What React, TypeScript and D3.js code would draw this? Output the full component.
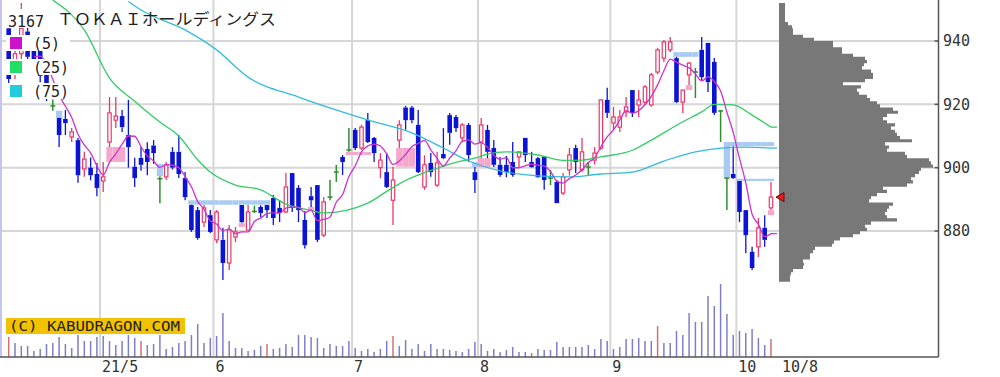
import React from 'react';
import * as d3 from 'd3';

// ---- categories: trading days (2021) ----
const monthDays: [number, number[]][] = [
  [4, [9, 12, 13, 14, 15, 16, 19, 20, 21, 22, 23, 26, 27, 28, 30]],
  [5, [6, 7, 10, 11, 12, 13, 14, 17, 18, 19, 20, 21, 24, 25, 26, 27, 28, 31]],
  [6, [1, 2, 3, 4, 7, 8, 9, 10, 11, 14, 15, 16, 17, 18, 21, 22, 23, 24, 25, 28, 29, 30]],
  [7, [1, 2, 5, 6, 7, 8, 9, 12, 13, 14, 15, 16, 19, 20, 21, 26, 27, 28, 29, 30]],
  [8, [2, 3, 4, 5, 6, 10, 11, 12, 13, 16, 17, 18, 19, 20, 23, 24, 25, 26, 27, 30, 31]],
  [9, [1, 2, 3, 6, 7, 8, 9, 10, 13, 14, 15, 16, 17, 21, 22, 24, 27, 28, 29, 30]],
  [10, [1, 4, 5, 6, 7, 8]],
];
const dates: string[] = monthDays.flatMap(([m, ds]) => ds.map((d) => `2021-${m}-${d}`));

const monthLabels = ['21/5', '6', '7', '8', '9', '10'];
const monthStarts = ['2021-5-6', '2021-6-1', '2021-7-1', '2021-8-2', '2021-9-1', '2021-10-1'];
const lastLabel = '10/8';
const priceTicks = [880, 900, 920, 940];

// ---- OHLC ----
const opens = [944, 930, 936, 943, 937, 937, 930, 919.5, 915.7, 915.4, 909.7, 908.7, 899.6, 900, 898, 895.8, 908.1, 915, 916.3, 910.3,
  900.3, 903.1, 905.9, 907, 896.5, 897.1, 905, 905, 896.7, 888.2, 886.6, 882.8, 885, 877.2, 877.2, 869.9, 878.1, 888.2, 880.3, 886.2,
  887.6, 888.2, 890.4, 887.3, 886, 898.3, 893.6, 883.5, 891, 894.5, 878.7, 890.7, 898.6, 903.4, 905.6, 911.9, 906.2, 915, 909.4, 900,
  898.6, 889.7, 908.7, 919, 919, 913.5, 893.9, 901.5, 894.5, 904.3, 916.6, 916, 909.4, 913.5, 898.6, 908.1, 911.9, 906.2, 900.9, 900.9,
  901.8, 903.4, 909.4, 901.8, 903, 903.4, 896.7, 895.5, 892, 899.3, 906.2, 899.3, 900.2, 902.4, 906.2, 921.4, 914.1, 912.8, 917.6, 924.5,
  919.8, 920.7, 919.8, 930.2, 934.6, 937.2, 934.6, 920.7, 929.3, 930.2, 937.2, 939.4, 933.4, 917.9, 896.7, 898, 895.8, 886.6, 873.4, 875,
  881, 887.3];
const highs = [946, 938, 952, 945, 938, 938, 931, 921.5, 915.7, 918.2, 912.5, 909.4, 905, 903.2, 901.5, 901.8, 922.3, 922.3, 918.2, 921.4,
  903.1, 906.5, 908, 908.7, 897.3, 901.8, 906.5, 910.3, 898.6, 888.3, 887.6, 888.2, 886.6, 886.6, 881, 881.9, 881.3, 888.2, 888.2, 888,
  888.1, 888.2, 891.4, 889.7, 898.3, 898.3, 894.5, 886.3, 893.9, 894.5, 890.7, 896.1, 900.9, 904, 912.5, 912.5, 913.5, 917.3, 909.7, 904.6,
  904.6, 900.3, 915, 919.5, 919.5, 918.2, 903.9, 904.6, 905, 912.5, 917.3, 916.6, 914.1, 914.1, 900.2, 915.7, 913.5, 908.7, 903.4, 903.7,
  908.1, 905, 909.4, 905, 903.4, 903.7, 899.3, 896.1, 898.3, 906.2, 907.2, 909.4, 901.8, 906.5, 921.4, 925.2, 919.2, 918.2, 922.3, 924.5,
  924.5, 926.1, 929.9, 937.8, 940.3, 941.3, 935, 924.5, 933.4, 931.5, 941.3, 939.4, 934.6, 918.2, 896.7, 906.8, 895.8, 886.6, 875, 884.1,
  885, 895.5];
const lows = [926, 928, 934, 933, 930, 927, 921, 918, 906.5, 910.3, 908.1, 895.2, 897.1, 896, 891, 892.3, 906.5, 912.5, 911.3, 900,
  893.9, 899, 897.6, 901.2, 888.8, 896.1, 899.4, 896.7, 889.7, 879.7, 877.2, 881.3, 879.4, 876.2, 864.5, 867.7, 876.5, 882.5, 880.3, 885.7,
  884.4, 884.1, 881.9, 882.8, 885.7, 886, 882.8, 874.5, 887.6, 876.5, 878.1, 889.7, 895.5, 897.7, 905, 905.6, 905.6, 907.8, 901.8, 896.7,
  893.6, 881.9, 906.2, 912, 914, 898.3, 893, 897.1, 893.9, 902.7, 907.2, 911.3, 908.1, 901.8, 892, 903, 903, 900.2, 897.1, 897,
  897.1, 900, 901.8, 900, 896.7, 893, 894.5, 888.8, 891.4, 897.5, 898.3, 898.6, 897.7, 901, 905.6, 915.7, 911.9, 911.3, 916, 916,
  916, 919.8, 919.2, 929.5, 933.4, 936.5, 920.4, 917.3, 926.1, 922, 927.7, 923.9, 916.6, 908.1, 886.6, 896.5, 882.8, 873, 867.7, 871.8,
  875, 886.6];
const closes = [928, 936, 944, 935, 932, 929, 924, 919.5, 910.3, 914.1, 911.3, 897.6, 902.7, 897.6, 893.6, 897.1, 917.3, 916.3, 912.8, 906.5,
  896.7, 900.9, 901.8, 904.6, 896.5, 900.9, 900, 898, 890.7, 880.3, 877.8, 887.3, 879.7, 886, 869.9, 880.3, 879.7, 882.8, 886, 886.2,
  885.7, 886.6, 884.1, 885.7, 893.9, 887.3, 886.6, 875.5, 889.7, 877.2, 889.2, 890.7, 898.6, 901.8, 905.6, 906.2, 912.8, 908.1, 904.6, 902.4,
  893.9, 896.1, 913.5, 915, 915, 898.6, 900.9, 898.6, 901.5, 903, 911, 912.5, 913.5, 904, 896.1, 913.5, 905, 900.9, 897.7, 898.6,
  897.7, 905, 904, 900.2, 897, 896.1, 896.7, 888.8, 897.1, 904, 901.8, 905, 900.2, 904.6, 921.4, 917.3, 916, 916, 919.2, 917.3,
  921.4, 925.5, 929.3, 937.2, 939.7, 939.7, 920.7, 924.5, 933, 930.2, 928.6, 927, 917.3, 917.9, 896.7, 896.7, 886, 878.7, 868.3, 881,
  877.2, 890.7];

// ---- volume (thousand shares) ----
const volumes = [20, 14, 11, 11, 6, 8, 13, 14, 20, 13, 9, 22, 16, 16, 20, 21, 16, 12, 16, 22,
  19, 16, 12, 13, 22, 8, 10, 14, 16, 22, 33, 14, 19, 21, 44, 16, 9, 9, 6, 7,
  11, 13, 8, 9, 13, 10, 22, 22, 20, 19, 9, 13, 11, 11, 16, 9, 6, 8, 5, 8,
  16, 21, 11, 17, 8, 13, 6, 13, 8, 8, 7, 6, 5, 8, 15, 13, 6, 8, 5, 7,
  10, 5, 5, 4, 8, 7, 7, 15, 10, 10, 10, 10, 12, 8, 18, 16, 8, 10, 18, 18,
  19, 16, 16, 31, 14, 14, 26, 22, 44, 35, 35, 61, 51, 73, 43, 22, 26, 24, 28, 19,
  12, 18];
const markedVolumeDays = [0, 21, 41, 61, 83, 103, 121];

// ---- moving averages (index, value) ----
const ma25Idx = [7, 12, 16, 20, 24, 27, 30, 32, 36, 40, 44, 48, 50, 57, 60, 63, 66, 71, 74, 76, 79, 84, 88, 91, 94, 99, 102, 107, 110, 112, 115, 118, 121];
const ma25Val = [952.9, 943.5, 928.3, 921, 914.4, 910, 902.5, 898.6, 894.5, 893, 888.5, 886.5, 885.7, 888.8, 892.5, 896, 898.4, 901.7, 903, 904.3, 905, 904, 902.3, 902.4, 903.4, 905.5, 908.7, 914.5, 917.6, 920, 919.8, 916.6, 912.8];
const ma75Idx = [19, 21, 28, 33, 38, 46, 57, 64, 69, 73, 78, 84, 89, 94, 99, 104, 109, 113, 117, 121];
const ma75Val = [952.5, 949.8, 943.5, 937.2, 928.6, 922.3, 915.1, 911, 906.2, 902.1, 899, 897.4, 897.1, 898, 898.6, 902.1, 905, 906.2, 906.5, 906.2];

// ---- price-by-volume profile (1-yen bins from 864) ----
const profileStart = 864;
const profileVol = [11, 11, 12, 14, 24, 25, 24, 31, 31, 34, 36, 53, 55, 61, 74, 81, 88, 86, 92, 118,
  108, 106, 108, 110, 114, 90, 92, 98, 108, 104, 128, 134, 132, 136, 140, 142, 154, 152, 150, 128,
  126, 108, 110, 106, 133, 121, 118, 116, 112, 116, 108, 104, 108, 119, 114, 101, 98, 91, 88, 80,
  78, 82, 64, 86, 94, 94, 92, 83, 85, 88, 86, 74, 63, 63, 54, 54, 35, 24, 14, 14,
  13, 9, 6, 6, 6, 6, 6, 6];

const COL = {
  up: '#e8386a', down: '#0a14d2', doji: '#2f8f2f',
  ma5: '#cc33cc', ma25: '#33cc66', ma75: '#33bbdd',
  gapUp: '#f4a8cc', gapDown: '#a9cbf2',
  grid: '#d6d6d6', axis: '#555', vol: '#7e7ec6', volMark: '#d27070', profile: '#787878',
};

export default function App() {
  const n = dates.length;
  const x = d3.scalePoint<string>().domain(dates).range([8.7, 771]);
  const step = x.step();
  const xi = (i: number) => x(dates[i]) as number;
  const y = d3.scaleLinear().domain([880, 940]).range([231, 41]);
  const yVol = d3.scaleLinear().domain([0, 100]).range([357, 257]);
  const xProf = d3.scaleLinear().domain([0, 155]).range([779, 934]);
  const bw = 4.6;
  const plotRight = 938.5;
  const baseY = 357;

  // gap windows
  type G = { i: number; lo: number; hi: number; up: boolean };
  const gaps: G[] = [];
  for (let i = 1; i < n; i++) {
    if (lows[i] > highs[i - 1]) {
      let lo = highs[i - 1], hi = lows[i];
      gaps.push({ i, lo, hi, up: true });
      for (let j = i + 1; j < n; j++) {
        if (lows[j] <= lo) break;
        if (lows[j] < hi) hi = lows[j];
        gaps.push({ i: j, lo, hi, up: true });
      }
    } else if (highs[i] < lows[i - 1]) {
      let lo = highs[i], hi = lows[i - 1];
      gaps.push({ i, lo, hi, up: false });
      for (let j = i + 1; j < n; j++) {
        if (highs[j] >= hi) break;
        if (highs[j] > lo) lo = highs[j];
        gaps.push({ i: j, lo, hi, up: false });
      }
    }
  }

  // MA5 from closes
  const ma5: [number, number][] = [];
  for (let i = 4; i < n; i++) ma5.push([i, d3.mean(closes.slice(i - 4, i + 1)) as number]);

  const line = d3.line<[number, number]>().x((d) => xi(d[0])).y((d) => y(d[1])).curve(d3.curveMonotoneX);
  const ma25: [number, number][] = ma25Idx.map((k, j) => [k, ma25Val[j]]);
  const ma75: [number, number][] = ma75Idx.map((k, j) => [k, ma75Val[j]]);
  const extX = xi(n - 1) + 6;

  // profile as one stepped path (no seams)
  let prof = `M${xProf(0)},${y(profileStart)}`;
  profileVol.forEach((v, k) => {
    const p = profileStart + k;
    prof += ` L${xProf(v)},${y(p)} L${xProf(v)},${y(p + 1)}`;
  });
  prof += ` L${xProf(0)},${y(profileStart + profileVol.length)} Z`;

  const lastClose = closes[n - 1];
  const font = '"DejaVu Sans Mono", monospace';

  return (
    <svg width={1000} height={377} style={{ position: 'absolute', left: 0, top: 0, background: '#fff' }}
      fontFamily={font}>
      <rect x={0} y={0} width={1000} height={377} fill="#fff" />
      {/* grid */}
      {priceTicks.map((p) => (
        <line key={'h' + p} x1={0} x2={plotRight} y1={y(p)} y2={y(p)} stroke={COL.grid} strokeWidth={2} />
      ))}
      {monthStarts.map((d) => {
        const gx = (x(d) as number) - step / 2;
        return <line key={'v' + d} x1={gx} x2={gx} y1={0} y2={baseY} stroke={COL.grid} strokeWidth={2} />;
      })}
      {/* left border */}
      <line x1={1} x2={1} y1={0} y2={baseY} stroke="#c4c4f0" strokeWidth={2} />

      {/* gap windows */}
      {gaps.map((g, k) => (
        <rect key={'g' + k} x={xi(g.i) - step / 2} width={step} y={y(g.hi)} height={Math.max(1.5, y(g.lo) - y(g.hi))}
          fill={g.up ? COL.gapUp : COL.gapDown} />
      ))}

      {/* volume bars */}
      {volumes.map((v, i) => (
        <line key={'vb' + i} x1={xi(i)} x2={xi(i)} y1={baseY} y2={yVol(v)}
          stroke={markedVolumeDays.includes(i) ? COL.volMark : COL.vol} strokeWidth={1.5} />
      ))}

      {/* candles */}
      {dates.map((d, i) => {
        const o = opens[i], c = closes[i], h = highs[i], l = lows[i];
        const cx = xi(i);
        if (c === o) {
          return (
            <g key={'c' + i} stroke={COL.doji} strokeWidth={1.5}>
              <line x1={cx} x2={cx} y1={y(h)} y2={y(l)} />
              <line x1={cx - 2.5} x2={cx + 2.5} y1={y(c)} y2={y(c)} />
            </g>
          );
        }
        const up = c > o;
        const col = up ? COL.up : COL.down;
        const top = y(Math.max(o, c)), bot = y(Math.min(o, c));
        return (
          <g key={'c' + i}>
            <line x1={cx} x2={cx} y1={y(h)} y2={top} stroke={col} strokeWidth={1.3} />
            <line x1={cx} x2={cx} y1={bot} y2={y(l)} stroke={col} strokeWidth={1.3} />
            {up ? (
              <rect x={cx - bw / 2 + 0.6} y={top} width={bw - 1.2} height={Math.max(1, bot - top)} fill="#fff" stroke={col} strokeWidth={1.2} />
            ) : (
              <rect x={cx - bw / 2} y={top} width={bw} height={Math.max(1.2, bot - top)} fill={col} />
            )}
          </g>
        );
      })}

      {/* moving averages */}
      <path d={line(ma75) || ''} fill="none" stroke={COL.ma75} strokeWidth={1.3} />
      <path d={line(ma25) || ''} fill="none" stroke={COL.ma25} strokeWidth={1.3} />
      <path d={line(ma5) || ''} fill="none" stroke={COL.ma5} strokeWidth={1.3} />
      <line x1={xi(n - 1)} x2={extX} y1={y(ma75Val[ma75Val.length - 1])} y2={y(ma75Val[ma75Val.length - 1])} stroke={COL.ma75} strokeWidth={1.3} />
      <line x1={xi(n - 1)} x2={extX} y1={y(ma25Val[ma25Val.length - 1])} y2={y(ma25Val[ma25Val.length - 1])} stroke={COL.ma25} strokeWidth={1.3} />
      <line x1={xi(n - 1)} x2={extX} y1={y(ma5[ma5.length - 1][1])} y2={y(ma5[ma5.length - 1][1])} stroke={COL.ma5} strokeWidth={1.3} />

      {/* price-by-volume profile */}
      <path d={prof} fill={COL.profile} />
      {/* last price marker */}
      <path d={`M${776},${y(lastClose)} L${784},${y(lastClose) - 4.5} L${784},${y(lastClose) + 4.5} Z`} fill="#e02020" stroke="#7a0000" strokeWidth={1} />

      {/* axes */}
      <line x1={0} x2={plotRight} y1={baseY} y2={baseY} stroke={COL.axis} strokeWidth={1.5} />
      <line x1={plotRight} x2={plotRight} y1={0} y2={baseY} stroke={COL.axis} strokeWidth={1.5} />
      {priceTicks.map((p) => (
        <g key={'t' + p}>
          <line x1={plotRight - 4} x2={plotRight} y1={y(p)} y2={y(p)} stroke={COL.axis} strokeWidth={1.5} />
          <text x={943} y={y(p)} dy="0.36em" fontSize={15} fill="#333">{p}</text>
        </g>
      ))}
      {monthStarts.map((d, k) => (
        <text key={'xl' + d} x={(x(d) as number) - step / 2 + 2} y={372} fontSize={15} fill="#333">{monthLabels[k]}</text>
      ))}
      <text x={782} y={372} fontSize={15} fill="#333">{lastLabel}</text>

      {/* watermark */}
      <rect x={6} y={318} width={179} height={16} fill="#f2c200" />
      <text x={9} y={331} fontSize={14.5} fill="#222" textLength={171} lengthAdjust="spacingAndGlyphs">(C) KABUDRAGON.COM</text>

      {/* title & legend */}
      <rect x={6} y={9} width={42} height={19} fill="#fff" />
      <text x={8} y={26.5} fontSize={15} fill="#222">3167</text>
      <text x={57} y={25} fontSize={15.6} fill="#222" fontFamily='"Noto Sans CJK JP", sans-serif' textLength={219} lengthAdjust="spacingAndGlyphs">ＴＯＫＡＩホールディングス</text>
      {[
        { c: '#cc11cc', t: '(5)', yy: 37 },
        { c: '#22dd66', t: '(25)', yy: 61 },
        { c: '#22ccdd', t: '(75)', yy: 85 },
      ].map((r) => (
        <g key={r.t}>
          <rect x={6} y={r.yy - 2} width={64} height={16} fill="#fff" />
          <rect x={10} y={r.yy} width={12} height={12} fill={r.c} />
          <text x={33} y={r.yy + 11.5} fontSize={15} fill="#222">{r.t}</text>
        </g>
      ))}
    </svg>
  );
}
